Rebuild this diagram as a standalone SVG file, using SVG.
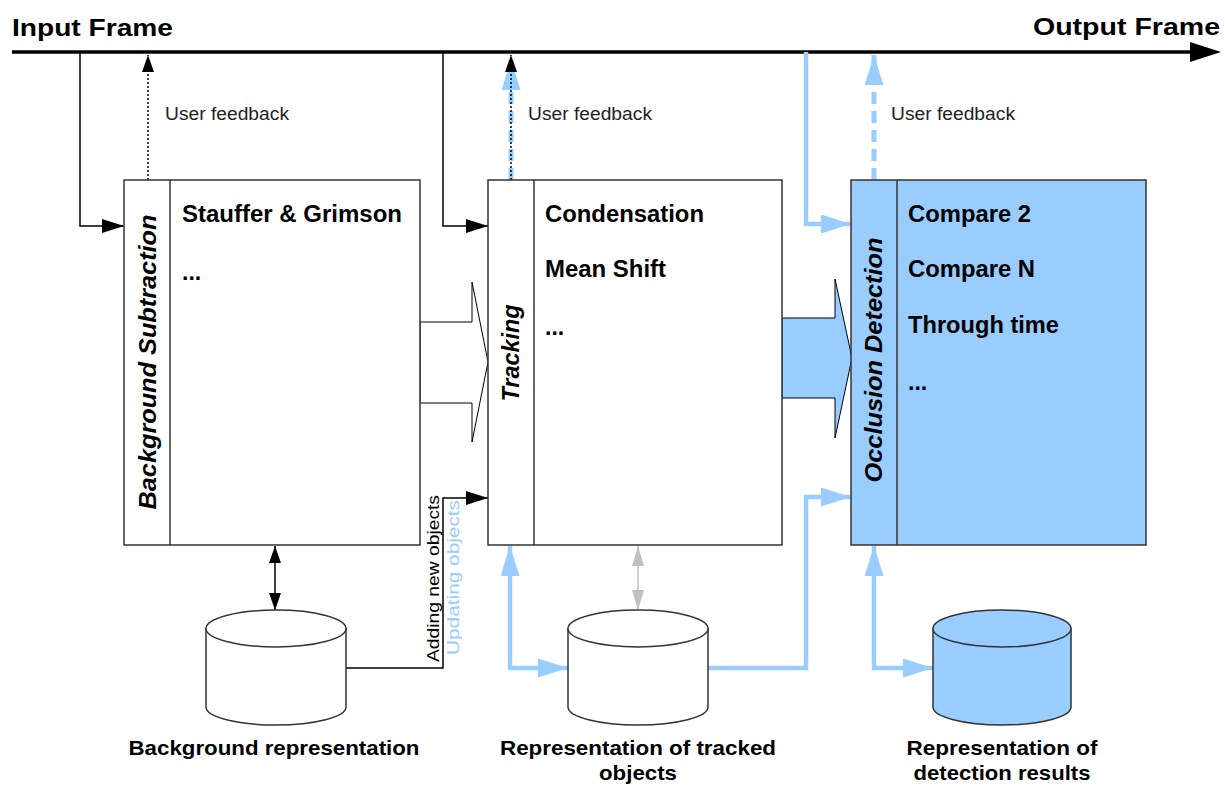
<svg xmlns="http://www.w3.org/2000/svg" width="1225" height="785" viewBox="0 0 1225 785">
<style>
text{font-family:"Liberation Sans",Arial,sans-serif;fill:#000}
.title{font-size:23px;font-weight:bold}
.fb{font-size:17.5px;fill:#222}
.item{font-size:23px;font-weight:bold}
.vlab{font-size:23px;font-weight:bold;font-style:italic}
.cap{font-size:21px;font-weight:bold}
.side{font-size:17px}
.box{stroke:#333;stroke-width:1.5}
.blk{fill:none;stroke:#000;stroke-width:1.5}
.blu{fill:none;stroke:#99ccff;stroke-width:4.5}
</style>
<defs>
<marker id="ah" markerUnits="userSpaceOnUse" markerWidth="22" markerHeight="14" refX="22" refY="7" orient="auto-start-reverse"><path d="M0,0 L22,7 L0,14 Z" fill="#000"/></marker>
<marker id="ahs" markerUnits="userSpaceOnUse" markerWidth="17" markerHeight="12" refX="17" refY="6" orient="auto-start-reverse"><path d="M0,0 L17,6 L0,12 Z" fill="#000"/></marker>
<marker id="ahg" markerUnits="userSpaceOnUse" markerWidth="20" markerHeight="12" refX="20" refY="6" orient="auto-start-reverse"><path d="M0,0 L20,6 L0,12 Z" fill="#c0c0c0"/></marker>
<marker id="ahb" markerUnits="userSpaceOnUse" markerWidth="30" markerHeight="19" refX="30" refY="9.5" orient="auto-start-reverse"><path d="M0,0 L30,9.5 L0,19 Z" fill="#99ccff"/></marker>
</defs>

<g id="frame-axis">
<line x1="12" y1="52" x2="1192" y2="52" stroke="#000" stroke-width="3.5"/>
<polygon points="1190,42 1221,52 1190,62" fill="#000"/>
<text class="title" x="12" y="36" textLength="161" lengthAdjust="spacingAndGlyphs">Input Frame</text>
<text class="title" x="1220" y="35" text-anchor="end" textLength="187" lengthAdjust="spacingAndGlyphs">Output Frame</text>
</g>

<g id="connectors">
<polyline class="blk" points="80,52 80,226 124,226" marker-end="url(#ah)"/>
<polyline class="blk" points="443,52 443,226 488,226" marker-end="url(#ah)"/>
<polyline class="blu" points="806,52 806,224 851,224" marker-end="url(#ahb)"/>
<line x1="148" y1="180" x2="148" y2="55" stroke="#000" stroke-width="1.5" stroke-dasharray="2 2" marker-end="url(#ahs)"/>
<line x1="511" y1="180" x2="511" y2="60" stroke="#99ccff" stroke-width="5" stroke-dasharray="12 7" marker-end="url(#ahb)"/>
<line x1="511" y1="180" x2="511" y2="55" stroke="#000" stroke-width="1.5" stroke-dasharray="2 2" marker-end="url(#ahs)"/>
<line x1="874" y1="180" x2="874" y2="55" stroke="#99ccff" stroke-width="5" stroke-dasharray="12 7" marker-end="url(#ahb)"/>
<line class="blk" x1="275" y1="546" x2="275" y2="610" marker-start="url(#ahs)" marker-end="url(#ahs)"/>
<polyline class="blk" points="346,668 443,668 443,498 488,498" marker-end="url(#ah)"/>
<line x1="638" y1="546" x2="638" y2="610" stroke="#c0c0c0" stroke-width="1.5" marker-start="url(#ahg)" marker-end="url(#ahg)"/>
<polyline class="blu" points="510,546 510,668 568,668" marker-start="url(#ahb)" marker-end="url(#ahb)"/>
<polyline class="blu" points="708,668 806,668 806,497 851,497" marker-end="url(#ahb)"/>
<polyline class="blu" points="874,546 874,668 933,668" marker-start="url(#ahb)" marker-end="url(#ahb)"/>
<polygon points="420,322 472,322 472,282 488,362 472,442 472,403 420,403" fill="#fff" stroke="#000" stroke-width="1"/>
<polygon points="782,318 835,318 835,279 852,358 835,438 835,398 782,398" fill="#99ccff" stroke="#000" stroke-width="1"/>
<text class="fb" x="165" y="120" textLength="124" lengthAdjust="spacingAndGlyphs">User feedback</text>
<text class="fb" x="528" y="120" textLength="124" lengthAdjust="spacingAndGlyphs">User feedback</text>
<text class="fb" x="891" y="120" textLength="124" lengthAdjust="spacingAndGlyphs">User feedback</text>
<text class="side" transform="translate(439,578.5) rotate(-90)" text-anchor="middle" textLength="167" lengthAdjust="spacingAndGlyphs">Adding new objects</text>
<text class="side" transform="translate(459,577.5) rotate(-90)" text-anchor="middle" textLength="155" lengthAdjust="spacingAndGlyphs" style="fill:#99ccff">Updating objects</text>
</g>

<g id="bg-subtraction">
<rect class="box" x="124" y="180" width="296" height="365" fill="#fff"/>
<line class="box" x1="170" y1="180" x2="170" y2="545"/>
<text class="vlab" transform="translate(156,362) rotate(-90)" text-anchor="middle" textLength="295" lengthAdjust="spacingAndGlyphs">Background Subtraction</text>
<text class="item" x="182" y="222" textLength="220" lengthAdjust="spacingAndGlyphs">Stauffer &amp; Grimson</text>
<text class="item" x="182" y="280">...</text>
</g>

<g id="tracking">
<rect class="box" x="488" y="180" width="294" height="365" fill="#fff"/>
<line class="box" x1="534" y1="180" x2="534" y2="545"/>
<text class="vlab" transform="translate(519,353) rotate(-90)" text-anchor="middle" textLength="97" lengthAdjust="spacingAndGlyphs">Tracking</text>
<text class="item" x="545" y="222" textLength="159" lengthAdjust="spacingAndGlyphs">Condensation</text>
<text class="item" x="545" y="277" textLength="121" lengthAdjust="spacingAndGlyphs">Mean Shift</text>
<text class="item" x="545" y="335">...</text>
</g>

<g id="occlusion-detection">
<rect class="box" x="851" y="180" width="295" height="365" fill="#99ccff"/>
<line class="box" x1="897" y1="180" x2="897" y2="545"/>
<text class="vlab" transform="translate(882,360) rotate(-90)" text-anchor="middle" textLength="245" lengthAdjust="spacingAndGlyphs">Occlusion Detection</text>
<text class="item" x="908" y="222" textLength="123" lengthAdjust="spacingAndGlyphs">Compare 2</text>
<text class="item" x="908" y="277" textLength="127" lengthAdjust="spacingAndGlyphs">Compare N</text>
<text class="item" x="908" y="333" textLength="151" lengthAdjust="spacingAndGlyphs">Through time</text>
<text class="item" x="908" y="390">...</text>
</g>

<g id="bg-representation">
<path d="M206,628 L206,707 A70,18 0 0 0 346,707 L346,628" fill="#fff" stroke="#333" stroke-width="1.5"/>
<ellipse cx="276" cy="628.5" rx="70" ry="18.5" fill="#fff" stroke="#333" stroke-width="1.5"/>
<text class="cap" x="274" y="755" text-anchor="middle" textLength="291" lengthAdjust="spacingAndGlyphs">Background representation</text>
</g>

<g id="tracked-representation">
<path d="M568,628 L568,707 A70,18 0 0 0 708,707 L708,628" fill="#fff" stroke="#333" stroke-width="1.5"/>
<ellipse cx="638" cy="628.5" rx="70" ry="18.5" fill="#fff" stroke="#333" stroke-width="1.5"/>
<text class="cap" x="638" y="755" text-anchor="middle" textLength="276" lengthAdjust="spacingAndGlyphs">Representation of tracked</text>
<text class="cap" x="638" y="780" text-anchor="middle" textLength="78" lengthAdjust="spacingAndGlyphs">objects</text>
</g>

<g id="detection-representation">
<path d="M933,628 L933,707 A69,18 0 0 0 1071,707 L1071,628" fill="#99ccff" stroke="#333" stroke-width="1.5"/>
<ellipse cx="1002" cy="628.5" rx="69" ry="18.5" fill="#99ccff" stroke="#333" stroke-width="1.5"/>
<text class="cap" x="1002" y="755" text-anchor="middle" textLength="191" lengthAdjust="spacingAndGlyphs">Representation of</text>
<text class="cap" x="1002" y="780" text-anchor="middle" textLength="177" lengthAdjust="spacingAndGlyphs">detection results</text>
</g>
</svg>
